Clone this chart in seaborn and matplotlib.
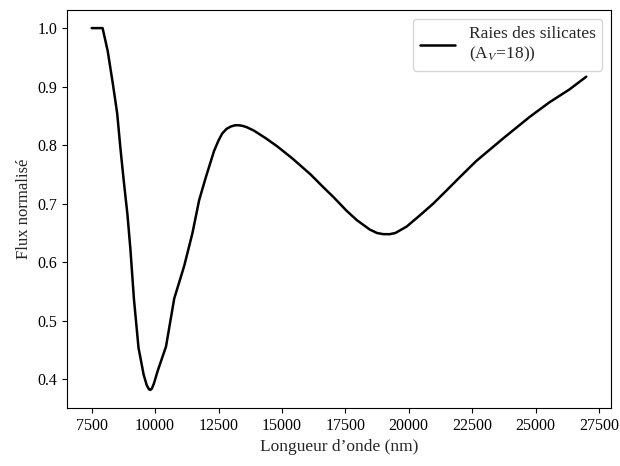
import matplotlib
matplotlib.use("Agg")
import matplotlib.pyplot as plt
import seaborn as sns
import pandas as pd

wavelength_nm = [7500, 7930, 8131, 8334, 8506, 8637, 8769, 8911, 9027, 9164,
                 9346, 9549, 9670, 9760, 9812, 9870, 9954, 10106, 10430, 10754,
                 11149, 11473, 11736, 11999, 12323, 12500, 12647, 12820, 12992, 13150,
                 13306, 13450, 13599, 13893, 14359, 14815, 15422, 16131, 16637, 17042,
                 17549, 17954, 18460, 18750, 18997, 19250, 19473, 19918, 20435, 20961,
                 21498, 22004, 22663, 23706, 24759, 25539, 26328, 27000]
flux = [1.000, 1.000, 0.961, 0.905, 0.854, 0.793, 0.737, 0.681, 0.622, 0.538,
        0.454, 0.408, 0.390, 0.383, 0.382, 0.384, 0.393, 0.415, 0.456, 0.538,
        0.594, 0.650, 0.706, 0.745, 0.790, 0.808, 0.820, 0.828, 0.832, 0.834,
        0.834, 0.833, 0.831, 0.825, 0.812, 0.798, 0.777, 0.750, 0.728, 0.711,
        0.688, 0.672, 0.656, 0.650, 0.648, 0.648, 0.650, 0.661, 0.680, 0.700,
        0.723, 0.745, 0.773, 0.811, 0.848, 0.873, 0.895, 0.917]
series_label = "Raies des silicates\n(A$_V$=18))"
x_label = "Longueur d\u2019onde (nm)"
y_label = "Flux normalisé"

sns.set_theme(style="ticks")
plt.rcParams["font.family"] = ["Liberation Serif", "DejaVu Serif"]
plt.rcParams["mathtext.fontset"] = "stix"
plt.rcParams["xtick.direction"] = "out"
plt.rcParams["ytick.direction"] = "out"

df = pd.DataFrame({"wl": wavelength_nm, "flux": flux})

fig, ax = plt.subplots(figsize=(6.2, 4.66), dpi=100)
sns.lineplot(data=df, x="wl", y="flux", color="black", linewidth=1.8,
             label=series_label, ax=ax, estimator=None, sort=False)
ax.set_xlabel(x_label, fontsize=12.5)
ax.set_ylabel(y_label, fontsize=12)
ax.set_xticks([7500, 10000, 12500, 15000, 17500, 20000, 22500, 25000, 27500])
ax.set_yticks([0.4, 0.5, 0.6, 0.7, 0.8, 0.9, 1.0])
ax.tick_params(labelsize=11.5, colors="black", length=3.5, width=0.8)
for s in ax.spines.values():
    s.set_color("black")
    s.set_linewidth(0.8)
leg = ax.legend(loc="upper right", fontsize=12.5, frameon=True)
leg.get_frame().set_edgecolor("#cccccc")

fig.subplots_adjust(left=0.108, right=0.9855, top=0.9785, bottom=0.1245)
fig.savefig("out.png", dpi=100)
